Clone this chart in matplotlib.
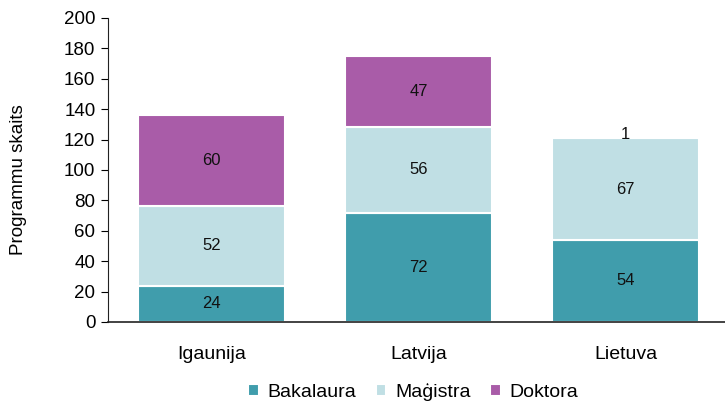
import matplotlib.pyplot as plt
import numpy as np

plt.rcParams['font.family'] = ['Liberation Sans', 'DejaVu Sans']

countries = ['Igaunija', 'Latvija', 'Lietuva']
series_names = ['Bakalaura', 'Maģistra', 'Doktora']
bakalaura = [24, 72, 54]
magistra = [52, 56, 67]
doktora = [60, 47, 1]
colors = ['#409dac', '#c0dfe4', '#a95ca8']

fig = plt.figure(figsize=(7.25, 4.03), dpi=100)
ax = fig.add_axes([108 / 725, 1 - 322 / 403, 1 - 108 / 725, 304 / 403])

x = np.arange(len(countries))
bottom = np.zeros(len(countries))
for name, vals, col in zip(series_names, [bakalaura, magistra, doktora], colors):
    vals = np.array(vals, dtype=float)
    ax.bar(x, vals, width=0.71, bottom=bottom, color=col, edgecolor='white',
           linewidth=1.5, label=name, zorder=2)
    for xi, b, v in zip(x, bottom, vals):
        if v >= 5:
            y = b + v / 2
        else:
            y = b + v + 1.5
        ax.text(xi, y, f'{int(v)}', ha='center', va='center', fontsize=12, color='#111111')
    bottom += vals

ax.set_xlim(-0.5, 2.48)
ax.set_ylim(0, 200)
ax.set_yticks(np.arange(0, 201, 20))
ax.set_xticks(x)
ax.set_xticklabels(countries)
ax.tick_params(axis='x', length=0, pad=17, labelsize=14)
ax.tick_params(axis='y', direction='out', length=5, labelsize=13.5, pad=4)
ax.set_ylabel('Programmu skaits', fontsize=13.5)
ax.yaxis.set_label_coords(-0.131, 0.467)
for s in ['top', 'right']:
    ax.spines[s].set_visible(False)
ax.spines['left'].set_color('#222222')
ax.spines['bottom'].set_color('#222222')
ax.spines['bottom'].set_linewidth(1.2)

handles, labels = ax.get_legend_handles_labels()
fig.legend(handles, labels, loc='center', bbox_to_anchor=(413 / 725, 11 / 403), ncol=3,
           frameon=False, fontsize=14, handlelength=0.55, handleheight=0.55,
           handletextpad=0.45, columnspacing=1.0, borderpad=0)

fig.savefig('out.png', dpi=100)
